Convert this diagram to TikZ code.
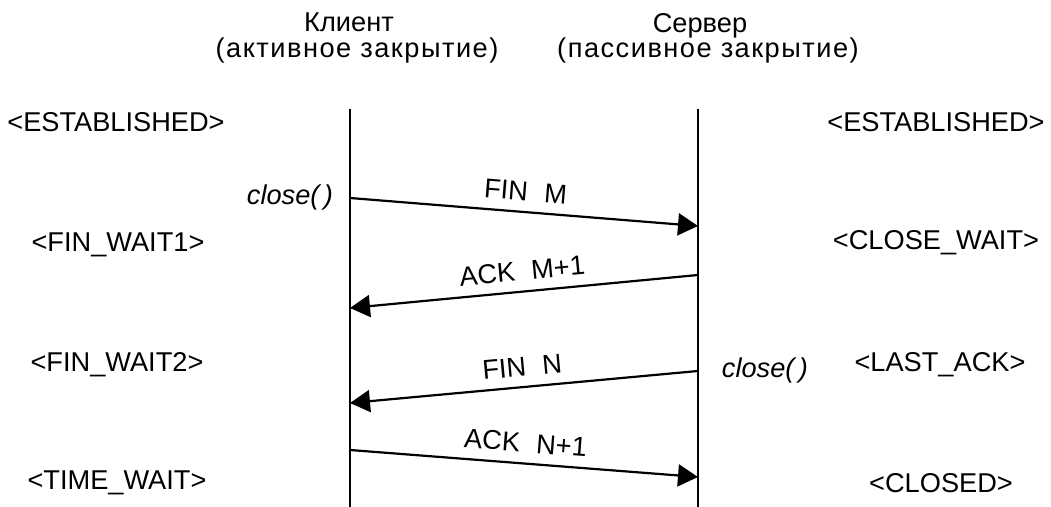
\documentclass[tikz,border=0pt]{standalone}
\usepackage{fontspec}
\setmainfont{Liberation Sans}
\usetikzlibrary{positioning,arrows.meta}

\begin{document}
\begin{tikzpicture}[x=0.5pt, y=-0.5pt, every node/.style={font=\fontsize{13.6}{16}\selectfont, inner sep=0pt}]
\tikzstyle{state}=[anchor=base]
\tikzstyle{lifeline}=[line width=1.2pt]
\tikzstyle{msg}=[-{Triangle[length=10pt, width=11pt]}, line width=1.1pt]
\tikzstyle{lbl}=[above=5pt, sloped, pos=0.5]
\useasboundingbox (0,0) rectangle (1051,507);
% heads
\node[state] (client) at (349,32) {Клиент};
\node[state] (clientnote) at (357,58) {\addfontfeature{LetterSpace=5.5}(активное закрытие)};
\node[state] (server) at (700,33) {Сервер};
\node[state] (servernote) at (708,58) {\addfontfeature{LetterSpace=5.5}(пассивное закрытие)};
% lifelines
\coordinate (ctop) at (350,109);
\coordinate (cbot) at (350,507);
\coordinate (stop) at (698,109);
\coordinate (sbot) at (698,507);
\draw[lifeline] (ctop)--(cbot);
\draw[lifeline] (stop)--(sbot);
% client states
\node[state] (cest) at (116,132) {<ESTABLISHED>};
\node[state] (cfw1) at (118,252) {<FIN\_WAIT1>};
\node[state] (cfw2) at (117,372) {<FIN\_WAIT2>};
\node[state] (ctw) at (117,490) {<TIME\_WAIT>};
% server states
\node[state] (sest) at (936,132) {<ESTABLISHED>};
\node[state] (scw) at (936,250) {<CLOSE\_WAIT>};
\node[state] (sla) at (940,372) {<LAST\_ACK>};
\node[state] (scl) at (941,493) {<CLOSED>};
% calls
\node[state] (cclose) at (290,205) {\itshape close(\,)};
\node[state] (sclose) at (765,378) {\itshape close(\,)};
% segments
\coordinate (c1) at (350,198);
\coordinate (s1) at (698,226);
\coordinate (s2) at (698,275);
\coordinate (c2) at (350,308);
\coordinate (s3) at (698,371);
\coordinate (c3) at (350,403);
\coordinate (c4) at (350,450);
\coordinate (s4) at (698,477);
\draw[msg] (c1)--node[lbl] {FIN\hspace{0.6em}M} (s1);
\draw[msg] (s2)--node[lbl] {ACK\hspace{0.6em}M+1} (c2);
\draw[msg] (s3)--node[lbl] {FIN\hspace{0.6em}N} (c3);
\draw[msg] (c4)--node[lbl] {ACK\hspace{0.6em}N+1} (s4);
\end{tikzpicture}
\end{document}
